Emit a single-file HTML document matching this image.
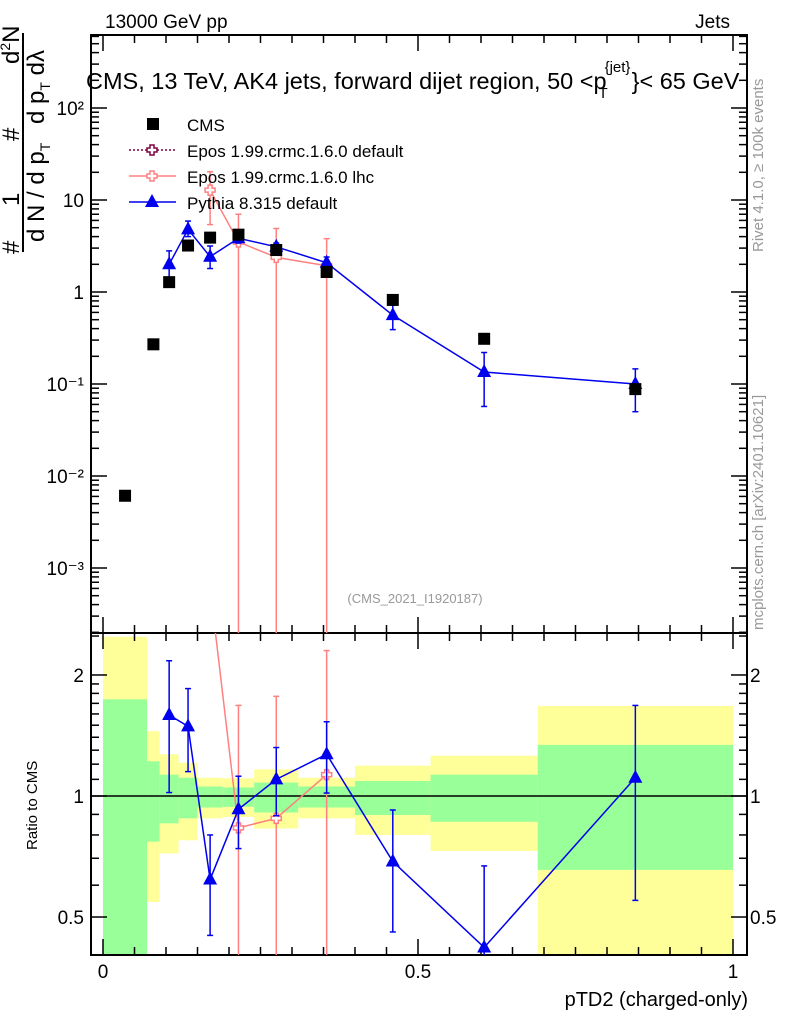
<!DOCTYPE html>
<html><head><meta charset="utf-8"><style>
html,body{margin:0;padding:0;background:#fff}
svg{display:block;font-family:"Liberation Sans",sans-serif}
</style></head><body>
<svg id="c" width="786" height="1024" viewBox="0 0 786 1024">
<g id="g"></g>
<text x="105" y="28" font-size="19">13000 GeV pp</text>
<text x="730" y="28" font-size="19" text-anchor="end">Jets</text>
<text x="86" y="89" font-size="23.5">CMS, 13 TeV, AK4 jets, forward dijet region, 50 &lt;p<tspan font-size="15" dy="-17" dx="-2">{jet}</tspan><tspan font-size="15" dx="-32" dy="26">T</tspan><tspan dy="-9" dx="24">}&lt; 65 GeV</tspan></text>
<text x="415" y="603" font-size="13" fill="#999" text-anchor="middle">(CMS_2021_I1920187)</text>
<text transform="translate(763,252) rotate(-90)" font-size="15" fill="#999">Rivet 4.1.0, ≥ 100k events</text>
<text transform="translate(763,630) rotate(-90)" font-size="15" fill="#999">mcplots.cern.ch [arXiv:2401.10621]</text>
<text transform="translate(37,850) rotate(-90)" font-size="15">Ratio to CMS</text>
<text x="748" y="1006" font-size="20" text-anchor="end">pTD2 (charged-only)</text>
<g font-size="24">
<line x1="23" y1="252" x2="23" y2="33" stroke="#000" stroke-width="2"/>
<text transform="translate(19,254) rotate(-90)">#</text>
<text transform="translate(19,206) rotate(-90)">1</text>
<text transform="translate(19,141) rotate(-90)">#</text>
<text transform="translate(19,64) rotate(-90)">d<tspan font-size="14" dy="-9">2</tspan><tspan dy="9">N</tspan></text>
<text transform="translate(44,242) rotate(-90)">d N / d p<tspan font-size="14" dy="6">T</tspan></text>
<text transform="translate(44,124) rotate(-90)">d p<tspan font-size="14" dy="6">T</tspan><tspan dy="-6"> dλ</tspan></text>
</g>
</svg>
<script>
const edges=[0,0.07,0.09,0.12,0.15,0.19,0.24,0.31,0.40,0.52,0.69,1.0];
const xc=[0.035,0.08,0.105,0.135,0.17,0.215,0.275,0.355,0.46,0.605,0.845];
const cmsVals=[0.0061,0.27,1.28,3.2,3.9,4.2,2.86,1.65,0.82,0.31,0.088];
const greenLo=[0.3,0.77,0.855,0.88,0.936,0.94,0.91,0.936,0.897,0.863,0.655];
const greenHi=[1.74,1.22,1.13,1.11,1.056,1.05,1.08,1.056,1.09,1.13,1.34];
const yelLo=[0.3,0.545,0.72,0.776,0.88,0.887,0.83,0.88,0.80,0.73,0.3];
const yelHi=[2.49,1.45,1.27,1.21,1.11,1.107,1.165,1.11,1.19,1.26,1.675];
const pyX=[0.105,0.135,0.17,0.215,0.275,0.355,0.46,0.605,0.845];
const pyVals=[2.0,4.8,2.42,3.84,3.1,2.08,0.56,0.135,0.1];
const pyErrHi=[2.8,5.9,3.16,4.3,3.4,2.4,0.72,0.22,0.146];
const pyErrLo=[1.37,4.0,1.8,3.4,2.8,1.8,0.39,0.057,0.05];
const pyRatio=[1.59,1.49,0.62,0.927,1.10,1.27,0.687,0.42,1.11];
const pyRatioHi=[2.17,1.85,0.80,1.12,1.32,1.53,0.923,0.67,1.68];
const pyRatioLo=[1.02,1.15,0.45,0.74,0.893,1.017,0.459,0.3,0.55];
const epX=[0.17,0.215,0.275,0.355];
const epVals=[12.8,3.5,2.38,1.93];
const epErrHi=[20.3,7.0,4.9,3.8];
const epErrLo=[5.4,1e-5,1e-5,1e-5];
const epRatio=[3.3,0.833,0.88,1.13];
const epRatioHi=[5,1.68,1.77,2.3];
const epRatioLo=[2.8,0.1,0.1,0.1];
const yTickLabels=["10²","10","1","10⁻¹","10⁻²","10⁻³"];
const xTickLabels=["0","0.5","1"];

const NS="http://www.w3.org/2000/svg";
const G=document.getElementById('g');
function el(t,a,p){const e=document.createElementNS(NS,t);for(const k in a)e.setAttribute(k,a[k]);(p||G).appendChild(e);return e;}
const L=91,R=747,T=35,M=633,B=955;
const X=v=>103+630*v;
const Y=v=>292-92*Math.log10(v);
const YR=v=>796-402*Math.log10(v);
const cR=v=>Math.max(M,Math.min(B,YR(v)));

for(let i=0;i<edges.length-1;i++){
 let r=el('rect',{x:X(edges[i]),y:cR(yelHi[i]),width:X(edges[i+1])-X(edges[i]),height:cR(yelLo[i])-cR(yelHi[i]),fill:'#ffff99'});
 
 
 let g=el('rect',{x:X(edges[i]),y:cR(greenHi[i]),width:X(edges[i+1])-X(edges[i]),height:cR(greenLo[i])-cR(greenHi[i]),fill:'#99ff99'});
 
 
}
el('line',{x1:L,x2:R,y1:YR(1),y2:YR(1),stroke:'#000','stroke-width':1.5});

el('rect',{x:L,y:T,width:R-L,height:M-T,fill:'none',stroke:'#000','stroke-width':2});
el('rect',{x:L,y:M,width:R-L,height:B-M,fill:'none',stroke:'#000','stroke-width':2});

for(let k=-2;k<=21;k++){const v=k*0.05;const x=X(v);if(x<L||x>R)continue;const big=k%10==0,len=big?16:8;
 for(const [y0,d] of [[M,-1],[T,1],[B,-1],[M,1]]) el('line',{x1:x,x2:x,y1:y0,y2:y0+d*len,stroke:'#000','stroke-width':1.5});}
xTickLabels.forEach((s,i)=>{const t=el('text',{x:X(i*0.5),y:978,'font-size':19,'text-anchor':'middle'});t.textContent=s;
 
 });

for(let d=-4;d<=2;d++)for(let m=1;m<10;m++){const v=m*Math.pow(10,d);const y=Y(v);if(y<T||y>M)continue;const len=m==1?16:8;
 el('line',{x1:L,x2:L+len,y1:y,y2:y,stroke:'#000','stroke-width':1.5});el('line',{x1:R,x2:R-len,y1:y,y2:y,stroke:'#000','stroke-width':1.5});}
yTickLabels.forEach((s,i)=>{const t=el('text',{x:84,y:Y(Math.pow(10,2-i))+7,'font-size':19,'text-anchor':'end'});t.textContent=s;
 
 });
const rTicks=[0.4,0.5,0.6,0.7,0.8,0.9,1,1.1,1.2,1.3,1.4,1.5,1.6,1.7,1.8,1.9,2,2.5];
rTicks.forEach(v=>{const y=YR(v);if(y<M||y>B)return;const big=(v==0.5||v==1||v==2);const len=big?16:8;
 el('line',{x1:L,x2:L+len,y1:y,y2:y,stroke:'#000','stroke-width':1.5});el('line',{x1:R,x2:R-len,y1:y,y2:y,stroke:'#000','stroke-width':1.5});});
[["2",2],["1",1],["0.5",0.5]].forEach(([s,v])=>{for(const [x,a] of [[84,'end'],[750,'start']]){const t=el('text',{x:x,y:YR(v)+7,'font-size':19,'text-anchor':a});t.textContent=s;
 
 }});

const defs=el('defs',{});
const c1=el('clipPath',{id:'ct'},defs);el('rect',{x:L,y:T,width:R-L,height:M-T},c1);
const c2=el('clipPath',{id:'cr'},defs);el('rect',{x:L,y:M,width:R-L,height:B-M},c2);
const topG=el('g',{'clip-path':'url(#ct)'}),ratG=el('g',{'clip-path':'url(#cr)'});

function tri(x,y,p,c){return el('polygon',{points:`${x},${y-8} ${x-7},${y+5} ${x+7},${y+5}`,fill:c},p);}
function cross(x,y,p,c){return el('path',{d:`M${x-2},${y-5}h4v3h3v4h-3v3h-4v-3h-3v-4h3z`,fill:'#fff',stroke:c,'stroke-width':1.5},p);}
function err(x,y1,y2,p,c){el('line',{x1:x,x2:x,y1:y1,y2:y2,stroke:c,'stroke-width':1.5},p);
 el('line',{x1:x-3,x2:x+3,y1:y1,y2:y1,stroke:c,'stroke-width':1.5},p);el('line',{x1:x-3,x2:x+3,y1:y2,y2:y2,stroke:c,'stroke-width':1.5},p);}

const ec='#ff8080';
epX.forEach((x,i)=>err(X(x),Y(epErrHi[i]),Math.min(700,Y(epErrLo[i])),topG,ec));
let ep=el('polyline',{points:epX.map((x,i)=>X(x)+','+Y(epVals[i])).join(' '),fill:'none',stroke:ec,'stroke-width':1.5},topG);


epX.forEach((x,i)=>cross(X(x),Y(epVals[i]),topG,ec));
const pc='#0000ee';
pyX.forEach((x,i)=>err(X(x),Y(pyErrHi[i]),Y(pyErrLo[i]),topG,pc));
let pl=el('polyline',{points:pyX.map((x,i)=>X(x)+','+Y(pyVals[i])).join(' '),fill:'none',stroke:pc,'stroke-width':1.5},topG);


pyX.forEach((x,i)=>{const t=tri(X(x),Y(pyVals[i]),topG,pc);
 
 });
xc.forEach((x,i)=>{const r=el('rect',{x:X(x)-6,y:Y(cmsVals[i])-6,width:12,height:12,fill:'#000'},topG);
 
 });

epX.forEach((x,i)=>err(X(x),YR(epRatioHi[i]),Math.min(1000,YR(epRatioLo[i])),ratG,ec));
el('polyline',{points:epX.map((x,i)=>X(x)+','+YR(epRatio[i])).join(' '),fill:'none',stroke:ec,'stroke-width':1.5},ratG);
epX.forEach((x,i)=>cross(X(x),YR(epRatio[i]),ratG,ec));
pyX.forEach((x,i)=>err(X(x),YR(pyRatioHi[i]),YR(pyRatioLo[i]),ratG,pc));
el('polyline',{points:pyX.map((x,i)=>X(x)+','+YR(pyRatio[i])).join(' '),fill:'none',stroke:pc,'stroke-width':1.5},ratG);
pyX.forEach((x,i)=>{const t=tri(X(x),YR(pyRatio[i]),ratG,pc);
 
 });

const lg=el('g',{});


el('rect',{x:147,y:118,width:12,height:12,fill:'#000'},lg);
el('line',{x1:129,x2:176,y1:150,y2:150,stroke:'#800040','stroke-width':1.5,'stroke-dasharray':'2,2'},lg);cross(152,150,lg,'#800040');
el('line',{x1:129,x2:176,y1:176,y2:176,stroke:ec,'stroke-width':1.5},lg);cross(152,176,lg,ec);
el('line',{x1:129,x2:176,y1:202,y2:202,stroke:pc,'stroke-width':1.5},lg);tri(152,202,lg,pc);
["CMS","Epos 1.99.crmc.1.6.0 default","Epos 1.99.crmc.1.6.0 lhc","Pythia 8.315 default"].forEach((s,i)=>{const t=el('text',{x:187,y:131+26*i,'font-size':17},lg);t.textContent=s;
 
 });
</script>
</body></html>
